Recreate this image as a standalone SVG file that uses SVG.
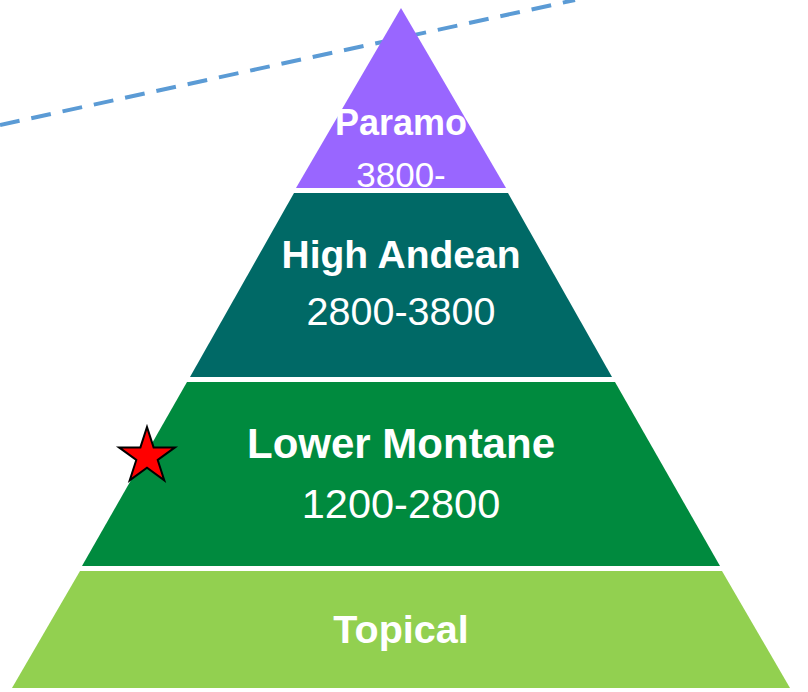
<svg xmlns="http://www.w3.org/2000/svg" width="808" height="692" viewBox="0 0 808 692">
<style>
.t{font-family:"Liberation Sans",Arial,sans-serif;fill:#fff;text-anchor:middle}
.b{font-weight:bold}
</style>
<rect width="808" height="692" fill="#fff"/>
<g id="connectors">
<line x1="0" y1="125" x2="575" y2="0" stroke="#5b9bd5" stroke-width="4" stroke-dasharray="20,12"/>
</g>
<g id="paramo">
<polygon points="401,8 506,188 296,188" fill="#9966ff"/>
<text class="t b" x="401" y="135" font-size="36">Paramo</text>
<text class="t" x="401" y="187" font-size="35">3800-</text>
</g>
<g id="high-andean">
<polygon points="294,193 508,193 612,377 190,377" fill="#006966"/>
<text class="t b" x="401" y="268" font-size="39">High Andean</text>
<text class="t" x="401" y="325" font-size="39.5">2800-3800</text>
</g>
<g id="lower-montane">
<polygon points="187,382 615,382 720,566 82,566" fill="#008a3e"/>
<text class="t b" x="401" y="458" font-size="42">Lower Montane</text>
<text class="t" x="401" y="518" font-size="41.5">1200-2800</text>
</g>
<g id="topical">
<polygon points="80,571 722,571 790,688 12,688" fill="#92d050"/>
<text class="t b" x="401" y="643" font-size="39.5">Topical</text>
</g>
<g id="star">
<polygon points="147,427 153.6,447.4 175,447.4 157.7,460 164.3,480.4 147,467.8 129.7,480.4 136.3,460 119,447.4 140.4,447.4" fill="#ff0000" stroke="#000" stroke-width="2"/>
</g>
</svg>
